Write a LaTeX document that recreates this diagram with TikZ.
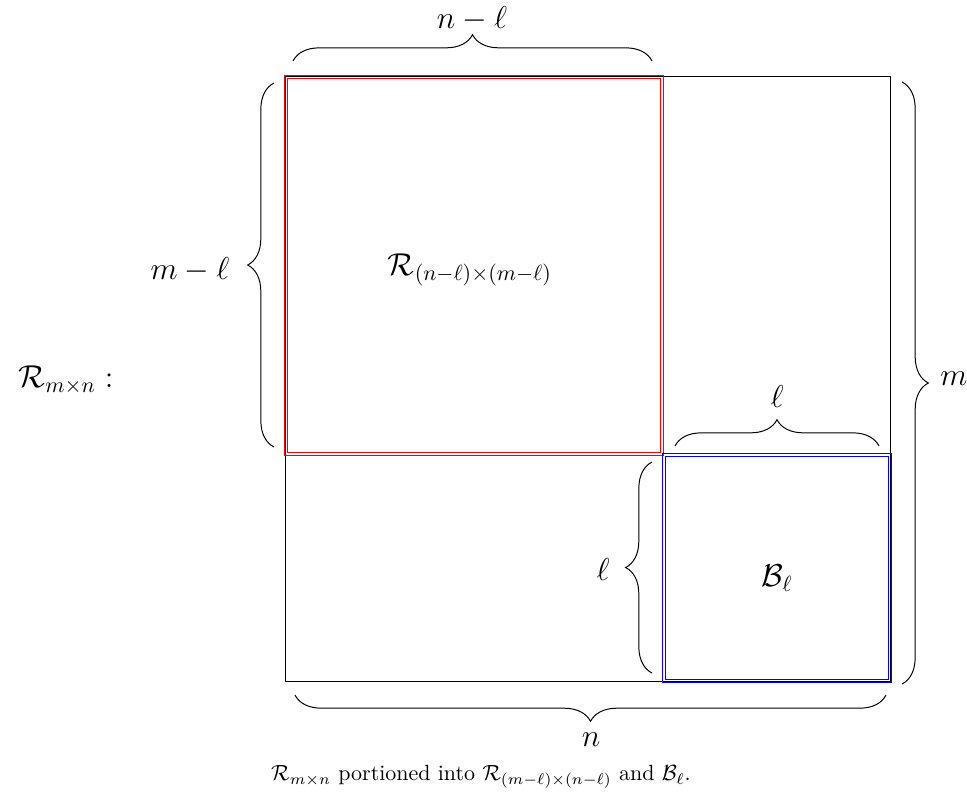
\documentclass[tikz,border=0pt]{standalone}
\usetikzlibrary{decorations.pathreplacing}
\begin{document}
\begin{tikzpicture}[x=0.016cm,y=-0.016cm,
  brc/.style={decorate,decoration={brace,amplitude=12pt},line width=0.45pt},
  lbl/.style={font=\Large, inner sep=0pt},
  frame/.style={line width=0.45pt},
  dbl/.style={line width=0.4pt}]
\useasboundingbox (0,0) rectangle (967,796);
% outer black rectangle and partition lines
\draw[frame] (285,76) rectangle (890,681);
\draw[frame] (285,455) -- (663,455);
\draw[frame] (663,76) -- (663,455);
% red double box
\draw[red,dbl] (284,75) rectangle (663,455);
\draw[red,dbl] (287,78) rectangle (660,452);
% blue double box
\draw[blue,dbl] (662.5,453.5) rectangle (891,682);
\draw[blue,dbl] (665.5,456.5) rectangle (888,679);
% brace end points
\coordinate (t1) at (293,61); \coordinate (t2) at (652,61);
\coordinate (l1) at (274,447); \coordinate (l2) at (274,83);
\coordinate (r1) at (902,82); \coordinate (r2) at (902,684);
\coordinate (it1) at (675,446); \coordinate (it2) at (879,446);
\coordinate (il1) at (652,673); \coordinate (il2) at (652,462);
\coordinate (b1) at (886,695); \coordinate (b2) at (295,695);
\draw[brc] (t1) -- (t2);
\draw[brc] (l1) -- (l2);
\draw[brc] (r1) -- (r2);
\draw[brc] (it1) -- (it2);
\draw[brc] (il1) -- (il2);
\draw[brc] (b1) -- (b2);
% labels
\node[lbl] (top) at (472,19) {$n-\ell$};
\node[lbl] (lft) at (190,270) {$m-\ell$};
\node[lbl] (rgt) at (954,379) {$m$};
\node[lbl] (itop) at (777,397) {$\ell$};
\node[lbl] (ilft) at (603,570) {$\ell$};
\node[lbl] (bot) at (591,740) {$n$};
\node[lbl] (R1) at (470,270) {$\mathcal{R}_{(n-\ell)\times(m-\ell)}$};
\node[lbl] (B) at (777,578) {$\mathcal{B}_\ell$};
\node[lbl] (R) at (66,380) {$\mathcal{R}_{m\times n}:$};
\node (cap) at (481,777) {$\mathcal{R}_{m\times n}$ portioned into $\mathcal{R}_{(m-\ell)\times(n-\ell)}$ and $\mathcal{B}_\ell$.};
\end{tikzpicture}
\end{document}
